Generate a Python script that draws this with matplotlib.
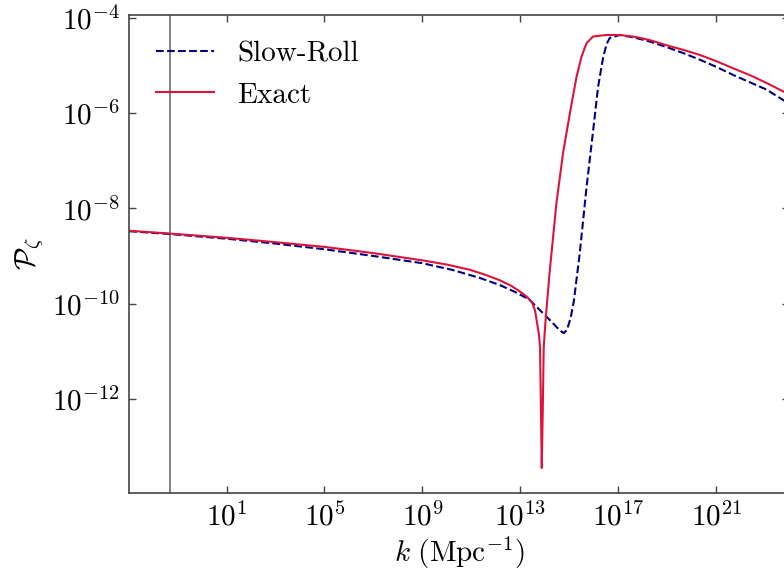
import numpy as np
import matplotlib
matplotlib.use("Agg")
import matplotlib.pyplot as plt
from matplotlib.ticker import LogFormatterSciNotation, NullLocator

plt.rcParams['font.family'] = 'serif'
plt.rcParams['font.serif'] = ['cmr10']
plt.rcParams['mathtext.fontset'] = 'cm'
plt.rcParams['axes.unicode_minus'] = False
plt.rcParams['axes.formatter.use_mathtext'] = True

# log10 of k (Mpc^-1) and log10 of P_zeta
sr_logk = [-2.97, -1.28, 1.06, 3.0, 5.02, 7.0, 8.98, 10.2, 11.34, 12.16,
           12.8, 13.35, 14.00, 14.40, 14.6, 14.77, 14.9, 15.05, 15.18, 15.42,
           15.70, 15.97, 16.17, 16.38, 16.52, 16.65, 17.06, 17.7, 18.3, 19.0,
           19.7, 20.33, 21.0, 21.69, 22.4, 23.06, 23.71, 24.0]
sr_logP = [-8.48, -8.54, -8.64, -8.74, -8.86, -9.0, -9.15, -9.29, -9.46, -9.61,
           -9.76, -9.91, -10.24, -10.45, -10.56, -10.62, -10.55, -10.30, -9.95, -8.95,
           -7.55, -6.36, -5.45, -4.82, -4.55, -4.42, -4.36, -4.42, -4.50, -4.62,
           -4.75, -4.88, -5.03, -5.20, -5.36, -5.51, -5.72, -5.80]

ex_logk = [-2.97, -1.28, 1.06, 3.0, 5.02, 7.0, 8.98, 10.0, 10.94, 11.6,
           12.16, 12.6, 12.94, 13.25, 13.47, 13.6, 13.67, 13.76, 13.80, 13.83,
           13.87, 13.91, 13.95, 14.02, 14.10, 14.20, 14.47, 14.74, 15.02, 15.29,
           15.49, 15.70, 15.97, 16.51, 17.06, 17.7, 18.3, 19.0, 19.7, 20.33,
           21.0, 21.69, 22.4, 23.06, 23.71, 24.0]
ex_logP = [-8.47, -8.53, -8.62, -8.71, -8.81, -8.94, -9.09, -9.18, -9.29, -9.40,
           -9.51, -9.62, -9.73, -9.85, -9.97, -10.15, -10.38, -10.66, -10.93, -11.96,
           -13.45, -12.30, -10.93, -10.40, -9.90, -9.30, -7.89, -6.84, -6.00, -5.24,
           -4.82, -4.53, -4.39, -4.36, -4.36, -4.40, -4.47, -4.58, -4.68, -4.78,
           -4.91, -5.06, -5.21, -5.37, -5.54, -5.62]

k_pivot = 0.05
xticks = [1e1, 1e5, 1e9, 1e13, 1e17, 1e21]
yticks = [1e-12, 1e-10, 1e-8, 1e-6, 1e-4]

fig = plt.figure(figsize=(7.84, 5.72), dpi=100)
ax = fig.add_axes([0.1649, 0.1386, 0.841, 0.8352])

ax.loglog(10**np.array(sr_logk), 10**np.array(sr_logP), '--', color='navy', lw=1.5, label='Slow-Roll')
ax.loglog(10**np.array(ex_logk), 10**np.array(ex_logP), '-', color='crimson', lw=1.5, label='Exact')
ax.axvline(k_pivot, color='gray', lw=1.4, zorder=1)

ax.set_xlim(10**-2.97, 10**23.95)
ax.set_ylim(10**-13.97, 10**-3.94)
ax.set_xticks(xticks)
ax.set_yticks(yticks)
ax.xaxis.set_major_formatter(LogFormatterSciNotation())
ax.yaxis.set_major_formatter(LogFormatterSciNotation())
ax.xaxis.set_minor_locator(NullLocator())
ax.yaxis.set_minor_locator(NullLocator())
ax.tick_params(direction='in', top=True, right=True, length=5, width=1,
               labelsize=21, color='#444444', pad=7)
for s in ax.spines.values():
    s.set_color('#444444')
    s.set_linewidth(1.2)

ax.set_xlabel(r'$k\ (\mathrm{Mpc}^{-1})$', fontsize=21, labelpad=2)
ax.set_ylabel(r'$\mathcal{P}_\zeta$', fontsize=21)
ax.legend(loc='upper left', frameon=False, fontsize=21, handlelength=2.0)

plt.savefig('out.png', dpi=100)
